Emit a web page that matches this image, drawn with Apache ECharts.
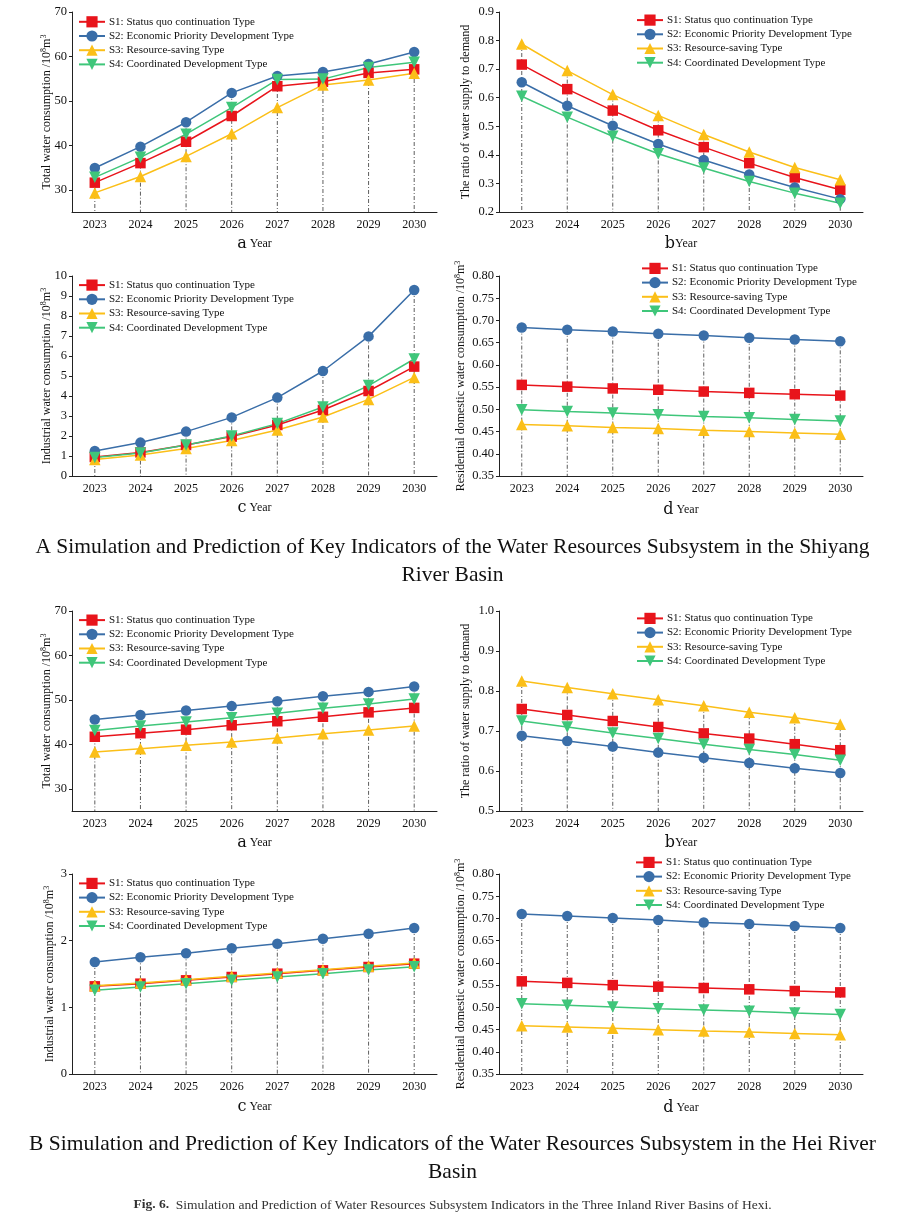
<!DOCTYPE html>
<html>
<head>
<meta charset="utf-8">
<script src="https://cdn.jsdelivr.net/npm/echarts@6/dist/echarts.min.js"></script>
<style>
html,body{margin:0;padding:0;background:#fff;}
#main{width:905px;height:1230px;}
</style>
</head>
<body>
<div id="main"></div>
<script>
// ---------- DATA ----------
const years = ['2023','2024','2025','2026','2027','2028','2029','2030'];
const seriesNames = [
  'S1: Status quo continuation Type',
  'S2: Economic Priority Development Type',
  'S3: Resource-saving Type',
  'S4: Coordinated Development Type'
];

// A: Shiyang River Basin
const aTotalS1 = [31.6, 36.0, 40.8, 46.6, 53.3, 54.3, 56.3, 57.1];
const aTotalS2 = [34.9, 39.7, 45.2, 51.8, 55.6, 56.5, 58.3, 61.0];
const aTotalS3 = [29.3, 33.0, 37.5, 42.6, 48.5, 53.6, 54.7, 56.2];
const aTotalS4 = [32.8, 37.3, 42.5, 48.5, 54.8, 54.9, 57.5, 58.7];

const aRatioS1 = [0.716, 0.630, 0.555, 0.486, 0.427, 0.371, 0.321, 0.278];
const aRatioS2 = [0.654, 0.572, 0.502, 0.438, 0.382, 0.331, 0.286, 0.245];
const aRatioS3 = [0.788, 0.695, 0.611, 0.538, 0.471, 0.410, 0.356, 0.313];
const aRatioS4 = [0.605, 0.532, 0.465, 0.404, 0.354, 0.307, 0.266, 0.231];

const aIndS1 = [0.95, 1.18, 1.55, 1.97, 2.55, 3.30, 4.25, 5.47];
const aIndS2 = [1.25, 1.67, 2.22, 2.93, 3.92, 5.25, 6.98, 9.30];
const aIndS3 = [0.82, 1.05, 1.37, 1.77, 2.30, 2.95, 3.83, 4.93];
const aIndS4 = [0.92, 1.15, 1.55, 2.00, 2.62, 3.45, 4.52, 5.85];

const aResS1 = [0.555, 0.551, 0.547, 0.544, 0.540, 0.537, 0.534, 0.531];
const aResS2 = [0.684, 0.679, 0.675, 0.670, 0.666, 0.661, 0.657, 0.653];
const aResS3 = [0.466, 0.463, 0.459, 0.457, 0.453, 0.450, 0.447, 0.444];
const aResS4 = [0.499, 0.495, 0.492, 0.488, 0.484, 0.481, 0.477, 0.474];

// B: Hei River Basin
const bTotalS1 = [41.7, 42.5, 43.3, 44.3, 45.2, 46.2, 47.2, 48.2];
const bTotalS2 = [45.6, 46.6, 47.6, 48.6, 49.7, 50.8, 51.8, 53.0];
const bTotalS3 = [38.3, 39.0, 39.8, 40.5, 41.4, 42.4, 43.2, 44.1];
const bTotalS4 = [43.1, 44.1, 45.0, 46.0, 47.0, 48.1, 49.1, 50.2];

const bRatioS1 = [0.755, 0.740, 0.725, 0.710, 0.694, 0.681, 0.667, 0.652];
const bRatioS2 = [0.688, 0.675, 0.661, 0.646, 0.633, 0.620, 0.607, 0.595];
const bRatioS3 = [0.825, 0.809, 0.793, 0.778, 0.763, 0.747, 0.733, 0.717];
const bRatioS4 = [0.725, 0.710, 0.695, 0.681, 0.667, 0.654, 0.641, 0.627];

const bIndS1 = [1.315, 1.355, 1.405, 1.455, 1.505, 1.555, 1.605, 1.655];
const bIndS2 = [1.680, 1.750, 1.810, 1.885, 1.955, 2.030, 2.105, 2.190];
const bIndS3 = [1.325, 1.365, 1.415, 1.465, 1.515, 1.565, 1.615, 1.665];
const bIndS4 = [1.255, 1.305, 1.355, 1.405, 1.455, 1.505, 1.560, 1.610];

const bResS1 = [0.5585, 0.5550, 0.5500, 0.5465, 0.5435, 0.5405, 0.5367, 0.5337];
const bResS2 = [0.7100, 0.7055, 0.7010, 0.6965, 0.6910, 0.6875, 0.6830, 0.6785];
const bResS3 = [0.4587, 0.4557, 0.4527, 0.4497, 0.4467, 0.4444, 0.4414, 0.4384];
const bResS4 = [0.5080, 0.5045, 0.5007, 0.4970, 0.4940, 0.4910, 0.4870, 0.4840];

// axis tick labels
const ticksTotal = [30, 40, 50, 60, 70];

// ---------- STYLE / LAYOUT ----------
const FONT = '"Liberation Serif", "Times New Roman", serif';
const colors = ['#e8141b', '#3a6ea8', '#fbbf18', '#3fc67a'];
const symbols = ['rect', 'circle', 'triangle', 'triangle'];
const symbolRot = [0, 0, 0, 180];
const symbolSizes = [10.5, 10.5, 11.5, 11.5];

const panels = [
  {data:[aTotalS1,aTotalS2,aTotalS3,aTotalS4], left:72, top:12, w:365, h:200, min:25, max:70, custom:ticksTotal, dec:0,
   yname:'Total water consumption /10', unit:true, xl:'a', xs:' ', lx:78, ly:21.7, ygap:18, xgap:24},
  {data:[aRatioS1,aRatioS2,aRatioS3,aRatioS4], left:499, top:12, w:364, h:200, min:0.2, max:0.9, interval:0.1, dec:1,
   yname:'The ratio of water supply to demand', unit:false, xl:'b', xs:'', lx:636, ly:20, ygap:26, xgap:24},
  {data:[aIndS1,aIndS2,aIndS3,aIndS4], left:72, top:276, w:365, h:200, min:0, max:10, interval:1, dec:0,
   yname:'Industrial water consumption /10', unit:true, xl:'c', xs:' ', lx:78, ly:285, ygap:18, xgap:24},
  {data:[aResS1,aResS2,aResS3,aResS4], left:499, top:276, w:364, h:200, min:0.35, max:0.8, interval:0.05, dec:2,
   yname:'Residential domestic water consumption /10', unit:true, xl:'d', xs:' ', lx:641, ly:268.3, ygap:31, xgap:26},
  {data:[bTotalS1,bTotalS2,bTotalS3,bTotalS4], left:72, top:611, w:365, h:200, min:25, max:70, custom:ticksTotal, dec:0,
   yname:'Total water consumption /10', unit:true, xl:'a', xs:' ', lx:78, ly:620, ygap:18, xgap:24},
  {data:[bRatioS1,bRatioS2,bRatioS3,bRatioS4], left:499, top:611, w:364, h:200, min:0.5, max:1.0, interval:0.1, dec:1,
   yname:'The ratio of water supply to demand', unit:false, xl:'b', xs:'', lx:636, ly:618.3, ygap:26, xgap:24},
  {data:[bIndS1,bIndS2,bIndS3,bIndS4], left:72, top:874, w:365, h:200, min:0, max:3, interval:1, dec:0,
   yname:'Industrial water consumption /10', unit:true, xl:'c', xs:' ', lx:78, ly:883.3, ygap:15, xgap:25},
  {data:[bResS1,bResS2,bResS3,bResS4], left:499, top:874, w:364, h:200, min:0.35, max:0.8, interval:0.05, dec:2,
   yname:'Residential domestic water consumption /10', unit:true, xl:'d', xs:' ', lx:635, ly:862.3, ygap:31, xgap:26}
];

const option = {
  backgroundColor:'#fff',
  animation:false,
  textStyle:{fontFamily:FONT},
  grid:[], xAxis:[], yAxis:[], legend:[], series:[],
  graphic:[]
};

panels.forEach((p, gi) => {
  option.grid.push({left:p.left, top:p.top, width:p.w, height:p.h, containLabel:false});
  option.xAxis.push({
    type:'category', gridIndex:gi, data:years, boundaryGap:true,
    axisLine:{lineStyle:{color:'#222', width:1}},
    axisTick:{show:false},
    axisLabel:{color:'#111', fontSize:12, fontFamily:FONT, margin:7},
    name:'{l|' + p.xl + '}' + p.xs + '{y|Year}', nameLocation:'middle', nameGap:p.xgap,
    nameMoveOverlap:false,
    nameTextStyle:{rich:{l:{fontSize:16, fontFamily:'"DejaVu Serif", serif', color:'#111'},
                         y:{fontSize:12, fontFamily:FONT, color:'#111'}}}
  });
  const yAx = {
    type:'value', gridIndex:gi, min:p.min, max:p.max,
    axisLine:{show:true, lineStyle:{color:'#222', width:1}},
    axisTick:{show:true, length:3, lineStyle:{color:'#222'}},
    splitLine:{show:false},
    axisLabel:{color:'#111', fontSize:12.5, fontFamily:FONT, margin:5,
      formatter:(v)=> Number(v).toFixed(p.dec)},
    name: p.unit ? ('{t|' + p.yname + '}{s|8}{t|m}{s|3}') : ('{t|' + p.yname + '}'),
    nameLocation:'middle', nameGap:p.ygap, nameRotate:90,
    nameMoveOverlap:false,
    nameTextStyle:{rich:{t:{fontSize:12, fontFamily:FONT, color:'#111', lineHeight:14},
                         s:{fontSize:8, fontFamily:FONT, color:'#111', verticalAlign:'top', lineHeight:14}}}
  };
  if (p.custom) {
    yAx.axisLabel.customValues = p.custom;
    yAx.axisTick.customValues = p.custom;
  } else {
    yAx.interval = p.interval;
  }
  option.yAxis.push(yAx);

  option.legend.push({
    orient:'vertical', left:p.lx, top:p.ly - 5.5, padding:0,
    itemWidth:26, itemHeight:14, itemGap:3,
    textStyle:{fontSize:11, fontFamily:FONT, color:'#111', padding:[0,0,0,-1]},
    data: seriesNames.map((n, i) => ({name:n + '\u200b'.repeat(gi)})),
    selectedMode:false
  });

  // drop lines from highest point of each year to the axis
  const tops = years.map((y, i) => [i, Math.max(p.data[0][i], p.data[1][i], p.data[2][i], p.data[3][i])]);
  option.series.push({
    type:'custom', xAxisIndex:gi, yAxisIndex:gi, z:1, silent:true,
    data: tops,
    renderItem:(params, api) => {
      const a = api.coord([api.value(0), api.value(1)]);
      const b = api.coord([api.value(0), p.min]);
      return {type:'line', shape:{x1:a[0], y1:a[1], x2:b[0], y2:b[1]},
        style:{stroke:'#5e5e5e', lineWidth:1, lineDash:[4,2,1,2]}};
    }
  });

  p.data.forEach((arr, si) => {
    option.series.push({
      name: seriesNames[si] + '\u200b'.repeat(gi),
      type:'line', xAxisIndex:gi, yAxisIndex:gi, z:3,
      data: arr,
      symbol: symbols[si], symbolRotate: symbolRot[si], symbolSize: symbolSizes[si],
      showAllSymbol:true,
      lineStyle:{color:colors[si], width:1.5},
      itemStyle:{color:colors[si], borderWidth:0},
      emphasis:{disabled:true}
    });
  });
});

// section titles and caption
const TITLE_FONT = '21.5px ' + FONT;
option.graphic = [
  {type:'text', left:'center', top:536, style:{
    text:'A Simulation and Prediction of Key Indicators of the Water Resources Subsystem in the Shiyang',
    font:TITLE_FONT, fill:'#111'}},
  {type:'text', left:'center', top:564, style:{
    text:'River Basin', font:TITLE_FONT, fill:'#111'}},
  {type:'text', left:'center', top:1133, style:{
    text:'B Simulation and Prediction of Key Indicators of the Water Resources Subsystem in the Hei River',
    font:TITLE_FONT, fill:'#111'}},
  {type:'text', left:'center', top:1161, style:{
    text:'Basin', font:TITLE_FONT, fill:'#111'}},
  {type:'text', left:'center', top:1198, style:{
    text:'{b|Fig. 6.}  Simulation and Prediction of Water Resources Subsystem Indicators in the Three Inland River Basins of Hexi.',
    font:'13.5px ' + FONT, fill:'#333',
    rich:{b:{fontWeight:'bold', fontSize:13.5, fontFamily:FONT, fill:'#333'}}}}
];

const chart = echarts.init(document.getElementById('main'), null, {renderer:'canvas'});
chart.setOption(option);
</script>
</body>
</html>
